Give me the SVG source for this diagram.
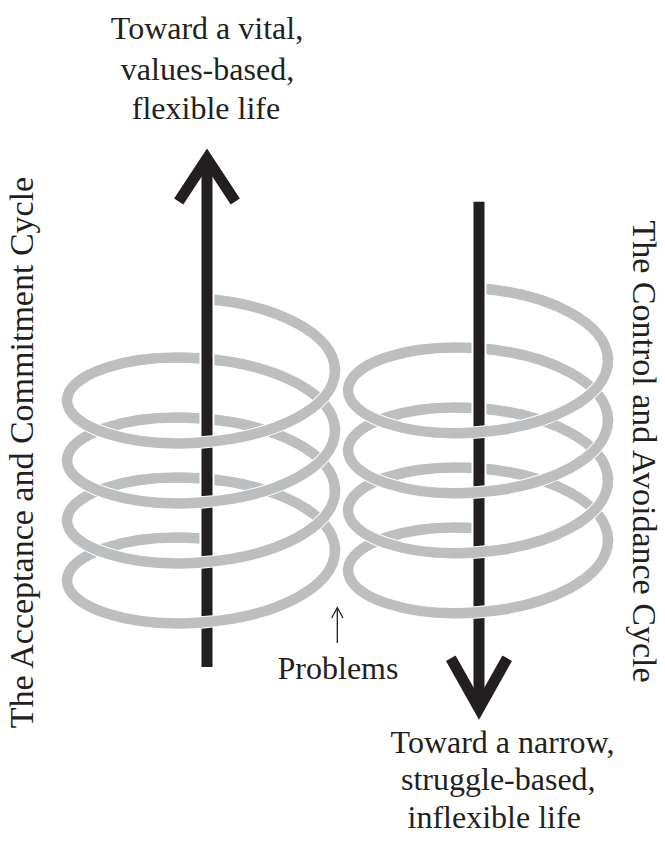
<svg xmlns="http://www.w3.org/2000/svg" xmlns:xlink="http://www.w3.org/1999/xlink" width="665" height="843" viewBox="0 0 665 843">
<style>
.coil{fill:none;stroke:#bcbec0;stroke-width:10.5;stroke-linecap:butt}
.halo{fill:none;stroke:#ffffff;stroke-width:12.5;stroke-linecap:butt}
.shaft{fill:none;stroke:#231f20;stroke-width:11;stroke-linecap:butt}
.shafthalo{fill:none;stroke:#ffffff;stroke-width:15;stroke-linecap:butt}
.head{fill:none;stroke:#231f20;stroke-width:11;stroke-linejoin:miter;stroke-linecap:butt;stroke-miterlimit:6}
.thin{fill:none;stroke:#231f20;stroke-width:1.3}
text{font-family:"Liberation Serif","Times New Roman",serif;fill:#231f20;text-anchor:middle}
.big{font-size:32px}
.side{font-size:34px}
</style>
<defs>
<path id="frontL" d="M335,370.5 C335,407.26 275,437.23 201,442.5 C127,447.77 67,426.71 67,400.5"/>
<path id="frontLg" d="M335,367.5 L335,370.5 C335,407.26 275,437.23 201,442.5 C127,447.77 67,426.71 67,400.5 L67,397.5"/>
<path id="backL" d="M67,400.5 C67,374.29 127,353.23 201,358.5 C275,363.77 335,393.74 335,430.5"/>
<path id="startL" d="M201,298.5 C275,303.77 335,333.74 335,370.5"/>
<path id="endL" d="M67,580.5 C67,554.29 127,533.23 201,538.5"/>
<path id="frontR" d="M608,360.3 C608,397.06 549.8,427.03 478,432.3 C406.2,437.57 348,416.51 348,390.3"/>
<path id="frontRg" d="M608,357.3 L608,360.3 C608,397.06 549.8,427.03 478,432.3 C406.2,437.57 348,416.51 348,390.3 L348,387.3"/>
<path id="backR" d="M348,390.3 C348,364.09 406.2,343.03 478,348.3 C549.8,353.57 608,383.54 608,420.3"/>
<path id="startR" d="M478,288.3 C549.8,293.57 608,323.54 608,360.3"/>
<path id="endR" d="M348,570.3 C348,544.09 406.2,523.03 478,528.3"/>
</defs>

<g id="coil-backs">
<g id="coil-left-back" class="coil">
<use xlink:href="#startL" href="#startL"/>
<use xlink:href="#backL" href="#backL"/>
<use xlink:href="#backL" href="#backL" transform="translate(0,60)"/>
<use xlink:href="#backL" href="#backL" transform="translate(0,120)"/>
<use xlink:href="#endL" href="#endL"/>
</g>
<g id="coil-right-back" class="coil">
<use xlink:href="#startR" href="#startR"/>
<use xlink:href="#backR" href="#backR"/>
<use xlink:href="#backR" href="#backR" transform="translate(0,60)"/>
<use xlink:href="#backR" href="#backR" transform="translate(0,120)"/>
<use xlink:href="#endR" href="#endR"/>
</g>
</g>

<g id="connectors">
<g id="arrow-up">
<line class="shafthalo" x1="207" y1="667" x2="207" y2="175"/>
<line class="shaft" x1="207" y1="667" x2="207" y2="165"/>
<polyline class="head" points="178.7,201.5 207,158.5 235.3,201.5"/>
</g>
<g id="arrow-down">
<line class="shafthalo" x1="479" y1="201.7" x2="479" y2="690"/>
<line class="shaft" x1="479" y1="201.7" x2="479" y2="702"/>
<polyline class="head" points="450.8,658.3 479,708.5 507.2,658.3"/>
</g>
<g id="problems-pointer">
<line class="thin" x1="337.3" y1="643" x2="337.3" y2="608"/>
<polyline class="thin" points="331.7,618 337.3,607.5 343,618"/>
</g>
</g>

<g id="coil-fronts">
<g class="halo">
<use xlink:href="#frontL" href="#frontL"/>
<use xlink:href="#frontL" href="#frontL" transform="translate(0,60)"/>
<use xlink:href="#frontL" href="#frontL" transform="translate(0,120)"/>
<use xlink:href="#frontL" href="#frontL" transform="translate(0,180)"/>
<use xlink:href="#frontR" href="#frontR"/>
<use xlink:href="#frontR" href="#frontR" transform="translate(0,60)"/>
<use xlink:href="#frontR" href="#frontR" transform="translate(0,120)"/>
<use xlink:href="#frontR" href="#frontR" transform="translate(0,180)"/>
</g>
<g id="coil-left-front" class="coil">
<use xlink:href="#frontLg" href="#frontLg"/>
<use xlink:href="#frontLg" href="#frontLg" transform="translate(0,60)"/>
<use xlink:href="#frontLg" href="#frontLg" transform="translate(0,120)"/>
<use xlink:href="#frontLg" href="#frontLg" transform="translate(0,180)"/>
</g>
<g id="coil-right-front" class="coil">
<use xlink:href="#frontRg" href="#frontRg"/>
<use xlink:href="#frontRg" href="#frontRg" transform="translate(0,60)"/>
<use xlink:href="#frontRg" href="#frontRg" transform="translate(0,120)"/>
<use xlink:href="#frontRg" href="#frontRg" transform="translate(0,180)"/>
</g>
</g>

<g id="label-top" class="big">
<text x="207" y="39.3">Toward a vital,</text>
<text x="207.5" y="79.5">values-based,</text>
<text x="206" y="118.5">flexible life</text>
</g>
<g id="label-bottom" class="big">
<text x="502.6" y="752.7">Toward a narrow,</text>
<text x="498.3" y="790.3">struggle-based,</text>
<text x="494.2" y="828">inflexible life</text>
</g>
<g id="label-problems" class="big">
<text x="338" y="679">Problems</text>
</g>
<g id="label-left" class="side">
<text transform="translate(33,452.5) rotate(-90)">The Acceptance and Commitment Cycle</text>
</g>
<g id="label-right" class="side">
<text transform="translate(633,451.5) rotate(90)">The Control and Avoidance Cycle</text>
</g>
</svg>
